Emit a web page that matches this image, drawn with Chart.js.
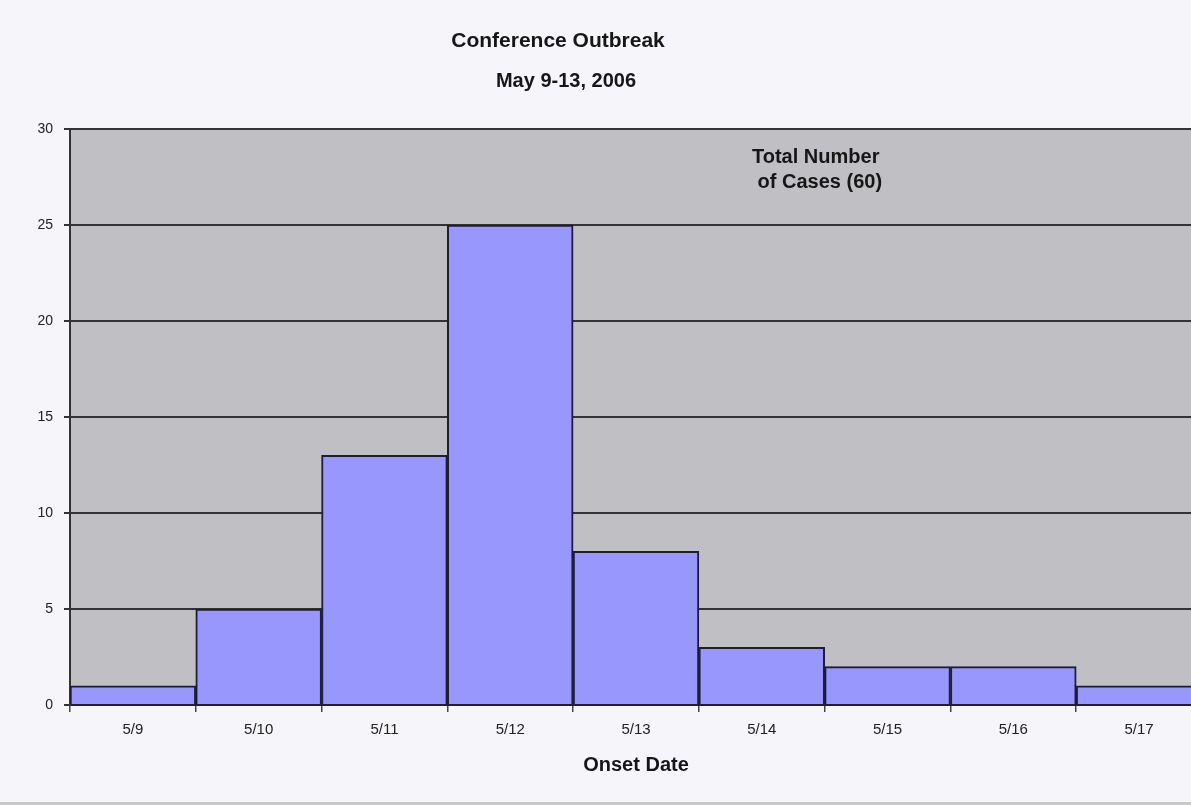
<!DOCTYPE html>
<html>
<head>
<meta charset="utf-8">
<script src="https://cdn.jsdelivr.net/npm/chart.js@4"></script>
<style>
  html, body { margin: 0; padding: 0; background: #f6f5f9; overflow: hidden; }
  #wrap { width: 1191px; height: 805px; overflow: hidden; position: relative; }
  canvas { display: block; }
</style>
</head>
<body>
<div id="wrap"><canvas id="c" width="1202" height="805"></canvas></div>
<script>
const categories = ['5/9', '5/10', '5/11', '5/12', '5/13', '5/14', '5/15', '5/16', '5/17'];
const cases = [1, 5, 13, 25, 8, 3, 2, 2, 1];
const yTicks = [0, 5, 10, 15, 20, 25, 30];
const titleLines = ['Conference Outbreak', 'May 9-13, 2006'];
const noteLines = ['Total Number', ' of Cases (60)'];
const xTitle = 'Onset Date';

const FONT = "'Liberation Sans', Arial, sans-serif";

const decor = {
  id: 'decor',
  beforeDraw(chart) {
    const {ctx, chartArea: a} = chart;
    ctx.save();
    ctx.fillStyle = '#c0bfc3';
    ctx.fillRect(a.left, a.top, a.right - a.left, a.bottom - a.top);
    ctx.restore();
  },
  afterDraw(chart) {
    const {ctx} = chart;
    ctx.save();
    ctx.fillStyle = '#161616';
    ctx.textAlign = 'center';
    ctx.textBaseline = 'middle';
    ctx.font = 'bold 21px ' + FONT;
    ctx.fillText(titleLines[0], 558, 41);
    ctx.font = 'bold 20px ' + FONT;
    ctx.fillText(titleLines[1], 566, 81);
    ctx.textAlign = 'left';
    ctx.font = 'bold 20px ' + FONT;
    ctx.fillText(noteLines[0], 752, 157);
    ctx.fillText(noteLines[1], 752, 182);
    ctx.fillStyle = '#c9c9cc';
    ctx.fillRect(0, 802, chart.width, 3);
    ctx.restore();
  }
};

new Chart(document.getElementById('c'), {
  type: 'bar',
  data: {
    labels: categories,
    datasets: [{
      data: cases,
      backgroundColor: '#9797fd',
      borderColor: '#1c1c3c',
      borderWidth: 2,
      barPercentage: 1,
      categoryPercentage: 1
    }]
  },
  options: {
    responsive: false,
    animation: false,
    layout: { padding: { top: 129, left: 0, right: 0, bottom: 0 } },
    plugins: { legend: { display: false }, tooltip: { enabled: false } },
    scales: {
      x: {
        offset: true,
        grid: { display: true, drawOnChartArea: false, drawTicks: true, tickLength: 7, color: '#444', lineWidth: 1.5, offset: true },
        border: { display: true, color: '#222', width: 2 },
        ticks: { font: { family: FONT, size: 15 }, color: '#222', padding: 9, maxRotation: 0 },
        title: { display: true, text: xTitle, font: { family: FONT, size: 20, weight: 'bold' }, color: '#161616', padding: { top: 13, bottom: 28 } },
        afterFit(scale) { scale.height = 100; }
      },
      y: {
        min: 0, max: 30,
        afterBuildTicks(scale) { scale.ticks = yTicks.map(v => ({ value: v })); },
        grid: { color: '#333', lineWidth: 2, drawTicks: true, tickLength: 6 },
        border: { display: true, color: '#333', width: 2 },
        ticks: { font: { family: FONT, size: 14 }, color: '#222', padding: 11 },
        afterFit(scale) { scale.width = 70; }
      }
    }
  },
  plugins: [decor]
});
</script>
</body>
</html>
